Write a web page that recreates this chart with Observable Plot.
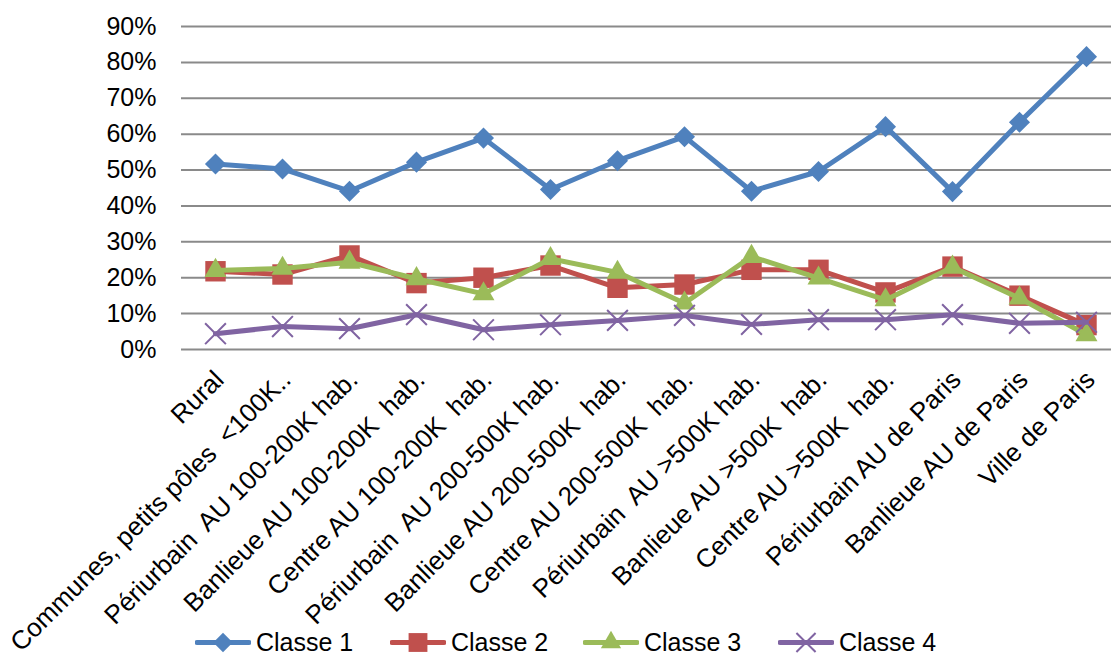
<!DOCTYPE html>
<html><head><meta charset="utf-8">
<script src="https://cdn.jsdelivr.net/npm/d3@7"></script>
<script src="https://cdn.jsdelivr.net/npm/@observablehq/plot@0.6"></script>
<style>
body{margin:0;background:#fff;font-family:"Liberation Sans",Arial,sans-serif;}
#chart{width:1111px;}
#chart svg{overflow:visible;}
#legend{position:relative;width:1111px;height:29px;}
.item{position:absolute;top:0;height:29px;display:flex;align-items:center;font-size:25px;color:#000;white-space:nowrap;}
.item svg{margin-right:5px;}
</style></head><body>
<div id="chart"></div>
<div id="legend"></div>
<script>
const categories = [
  "Rural",
  "Communes, petits pôles  <100K..",
  "Périurbain  AU 100-200K hab.",
  "Banlieue AU 100-200K  hab.",
  "Centre AU 100-200K  hab.",
  "Périurbain  AU 200-500K hab.",
  "Banlieue AU 200-500K  hab.",
  "Centre AU 200-500K  hab.",
  "Périurbain  AU >500K hab.",
  "Banlieue AU >500K  hab.",
  "Centre AU >500K  hab.",
  "Périurbain AU de Paris",
  "Banlieue AU de Paris",
  "Ville de Paris"
];
const seriesNames = ["Classe 1", "Classe 2", "Classe 3", "Classe 4"];
const classe1 = [51.7, 50.3, 44.1, 52.2, 58.9, 44.6, 52.6, 59.3, 44.1, 49.6, 62.1, 44.0, 63.3, 81.6];
const classe2 = [21.8, 20.9, 26.2, 18.5, 20.0, 23.4, 17.2, 18.1, 22.2, 22.2, 15.9, 23.1, 15.0, 6.8];
const classe3 = [22.0, 22.6, 24.3, 19.7, 15.5, 25.3, 21.5, 12.9, 25.9, 19.9, 13.8, 22.9, 14.3, 4.1];
const classe4 = [4.4, 6.4, 5.8, 9.7, 5.5, 6.9, 8.1, 9.5, 7.0, 8.3, 8.3, 9.7, 7.3, 7.6];
const yTicks = [0, 10, 20, 30, 40, 50, 60, 70, 80, 90];

const colors = ["#4F81BD", "#C0504D", "#9BBB59", "#8064A2"];
const symbols = ["diamond2", "square2", "triangle2", "times"];
const radii = [9.5, 13, 10.5, 9.5];
const values = [classe1, classe2, classe3, classe4];

const series = seriesNames.map((name, k) => ({
  name, color: colors[k], symbol: symbols[k], r: radii[k],
  data: categories.map((c, i) => ({category: c, value: values[k][i] / 100}))
}));

const marks = [
  Plot.ruleY(yTicks.map(v => v / 100), {stroke: "#8a8a8a", strokeWidth: 2}),
  Plot.axisY(yTicks.map(v => v / 100), {tickFormat: d3.format(".0%"), tickSize: 0, tickPadding: 25, fontSize: 25, label: null, fill: "#000"}),
  Plot.axisX({tickRotate: -45, tickSize: 0, tickPadding: 26, dx: 4, fontSize: 26, label: null, fill: "#000"})
];
for (const s of series) {
  marks.push(Plot.line(s.data, {x: "category", y: "value", stroke: s.color, strokeWidth: 5, strokeLinejoin: "round"}));
  if (s.symbol === "times") {
    marks.push(Plot.dot(s.data, {x: "category", y: "value", symbol: s.symbol, r: s.r, stroke: s.color, strokeWidth: 2, fill: "none"}));
  } else {
    marks.push(Plot.dot(s.data, {x: "category", y: "value", symbol: s.symbol, r: s.r, fill: s.color, stroke: "none"}));
  }
}

const chart = Plot.plot({
  width: 1111,
  height: 628,
  marginLeft: 181,
  marginRight: 0,
  marginTop: 26,
  marginBottom: 279,
  style: {fontFamily: "'Liberation Sans', Arial, sans-serif", color: "#000", background: "#fff", overflow: "visible"},
  x: {type: "point", domain: categories, range: [215, 1086], padding: 0},
  y: {domain: [0, 0.9]},
  marks
});
document.getElementById("chart").appendChild(chart);

// Legend
const legendLeft = [195, 390, 583, 778];
const legend = document.getElementById("legend");
series.forEach((s, k) => {
  const item = document.createElement("div");
  item.className = "item";
  item.style.left = legendLeft[k] + "px";
  const w = 56, h = 29;
  const svg = d3.create("svg").attr("width", w).attr("height", h);
  svg.append("line").attr("x1", 2).attr("x2", w - 2).attr("y1", h / 2).attr("y2", h / 2)
    .attr("stroke", s.color).attr("stroke-width", 5).attr("stroke-linecap", "round");
  const symMap = {diamond2: d3.symbolDiamond2, square2: d3.symbolSquare2, triangle2: d3.symbolTriangle2, times: d3.symbolTimes};
  const path = svg.append("path")
    .attr("transform", `translate(${w / 2},${h / 2})`)
    .attr("d", d3.symbol(symMap[s.symbol], Math.PI * s.r * s.r * 0.85)());
  if (s.symbol === "times") path.attr("fill", "none").attr("stroke", s.color).attr("stroke-width", 2);
  else path.attr("fill", s.color);
  item.appendChild(svg.node());
  const span = document.createElement("span");
  span.textContent = s.name;
  item.appendChild(span);
  legend.appendChild(item);
});
</script>
</body></html>
